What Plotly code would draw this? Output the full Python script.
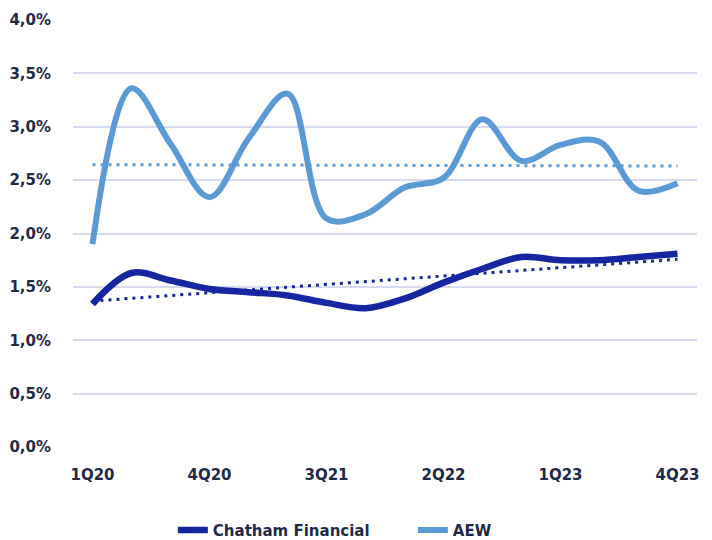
import numpy as np
import plotly.graph_objects as go

quarters = ["1Q20", "2Q20", "3Q20", "4Q20", "1Q21", "2Q21", "3Q21", "4Q21",
            "1Q22", "2Q22", "3Q22", "4Q22", "1Q23", "2Q23", "3Q23", "4Q23"]
tick_labels = ["1Q20", "4Q20", "3Q21", "2Q22", "1Q23", "4Q23"]

chatham = [1.34, 1.63, 1.56, 1.48, 1.45, 1.42, 1.35, 1.30,
           1.39, 1.54, 1.67, 1.78, 1.75, 1.75, 1.78, 1.81]
aew = [1.90, 3.36, 2.84, 2.34, 2.89, 3.31, 2.14, 2.18,
       2.43, 2.52, 3.07, 2.68, 2.83, 2.86, 2.40, 2.47]

DARK = "#1626A0"
LIGHT = "#5B9BD5"
TEXT = "#1F2A4A"
GRID = "#D5DAF0"
FONT = "DejaVu Sans"
FS = 15

idx = np.arange(len(quarters))


def trend(vals):
    s, b = np.polyfit(idx, np.array(vals), 1)
    return list(s * idx + b)


fig = go.Figure()
fig.add_trace(go.Scatter(x=quarters, y=trend(aew), mode="lines", showlegend=False,
                         line=dict(color=LIGHT, width=3, dash="3px,5px"), hoverinfo="skip"))
fig.add_trace(go.Scatter(x=quarters, y=trend(chatham), mode="lines", showlegend=False,
                         line=dict(color=DARK, width=3, dash="3px,5px"), hoverinfo="skip"))
fig.add_trace(go.Scatter(x=quarters, y=chatham, mode="lines", name="Chatham Financial",
                         line=dict(color=DARK, width=6.5, shape="spline", smoothing=1)))
fig.add_trace(go.Scatter(x=quarters, y=aew, mode="lines", name="AEW",
                         line=dict(color=LIGHT, width=6, shape="spline", smoothing=1)))

fig.update_layout(
    width=712, height=540,
    margin=dict(l=73, r=15, t=20, b=93, autoexpand=False),
    plot_bgcolor="white", paper_bgcolor="white",
    font=dict(family=FONT, color=TEXT, size=FS),
    legend=dict(orientation="h", x=0.16, xanchor="left", y=-0.195, yanchor="middle",
                font=dict(family=FONT, size=FS, color=TEXT, weight="bold"),
                entrywidth=195, entrywidthmode="pixels", traceorder="normal"),
    separators=",.",
)
fig.update_xaxes(type="category", categoryorder="array", categoryarray=quarters,
                 range=[-0.5, len(quarters) - 0.5], automargin=False,
                 tickmode="array", tickvals=tick_labels, ticktext=tick_labels,
                 showgrid=False, showline=False, zeroline=False,
                 tickfont=dict(family=FONT, size=FS, color=TEXT, weight="bold"),
                 ticks="outside", ticklen=14, tickcolor="rgba(0,0,0,0)")
fig.update_yaxes(range=[0, 4.0], dtick=0.5, tick0=0, showgrid=True, gridcolor=GRID, gridwidth=2,
                 automargin=False,
                 zeroline=False, showline=False, tickformat=".1f", ticksuffix="%",
                 tickfont=dict(family=FONT, size=FS, color=TEXT, weight="bold"),
                 ticks="outside", ticklen=18, tickcolor="rgba(0,0,0,0)")

fig.write_html("out.html", config={"displayModeBar": False},
               post_script="document.body.style.margin='0';")
